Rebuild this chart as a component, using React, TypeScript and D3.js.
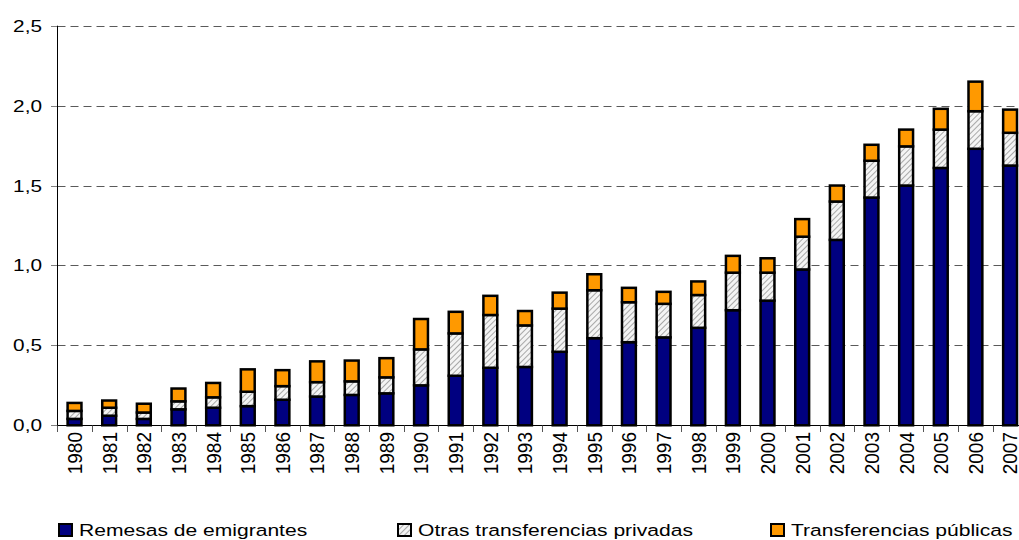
import React from "react";
import * as d3 from "d3";

const years = ["1980","1981","1982","1983","1984","1985","1986","1987","1988","1989","1990","1991","1992","1993","1994","1995","1996","1997","1998","1999","2000","2001","2002","2003","2004","2005","2006","2007"];
const remesas = [0.04,0.06,0.04,0.10,0.11,0.12,0.16,0.18,0.19,0.20,0.25,0.31,0.36,0.365,0.46,0.545,0.52,0.55,0.61,0.72,0.78,0.975,1.16,1.425,1.50,1.61,1.73,1.625];
const otras = [0.05,0.05,0.04,0.05,0.065,0.09,0.085,0.09,0.085,0.10,0.225,0.265,0.33,0.26,0.27,0.30,0.25,0.21,0.205,0.235,0.175,0.205,0.24,0.23,0.245,0.24,0.235,0.205];
const publicas = [0.05,0.045,0.055,0.08,0.09,0.14,0.10,0.13,0.13,0.12,0.19,0.135,0.12,0.09,0.10,0.10,0.09,0.075,0.085,0.105,0.09,0.11,0.10,0.10,0.105,0.13,0.185,0.145];
const yTicks = [0, 0.5, 1.0, 1.5, 2.0, 2.5];
const seriesNames = ["Remesas de emigrantes", "Otras transferencias privadas", "Transferencias públicas"];

const W = 1019, H = 540;
const FONT = "'Liberation Sans', Arial, sans-serif";

export default function App() {
  const x = d3.scaleBand<string>().domain(years).range([57.2, 1027.4]).paddingInner(0.6).paddingOuter(0.3);
  const y = d3.scaleLinear().domain([0, 2.5]).range([425.3, 25.7]);
  const table = years.map((yr, i) => ({ yr, remesas: remesas[i], otras: otras[i], publicas: publicas[i] }));
  const stack = d3.stack<any>().keys(["remesas", "otras", "publicas"])(table);
  const fills = ["#000080", "url(#hatch)", "#FF9900"];
  const step = x.step();
  const bw = x.bandwidth();
  const legendX = [58, 397, 770];
  const fmt = (v: number) => v.toFixed(1).replace(".", ",");

  return (
    <svg width={W} height={H} style={{ position: "absolute", left: 0, top: 0, background: "#fff" }} fontFamily={FONT}>
      <defs>
        <pattern id="hatch" patternUnits="userSpaceOnUse" width="4" height="4" patternTransform="rotate(45)">
          <rect width="4" height="4" fill="#f4f4f4" />
          <line x1="0" y1="0" x2="0" y2="4" stroke="#a8a8a8" strokeWidth="2" />
        </pattern>
      </defs>
      <rect width={W} height={H} fill="#fff" />
      {yTicks.filter(t => t > 0).map(t => (
        <line key={t} x1={57.5} x2={W} y1={Math.round(y(t)) + 0.5} y2={Math.round(y(t)) + 0.5} stroke="#5a5a5a" strokeDasharray="8,5" strokeWidth={1} />
      ))}
      {yTicks.map(t => (
        <g key={t}>
          <line x1={51} x2={57.5} y1={Math.round(y(t)) + 0.5} y2={Math.round(y(t)) + 0.5} stroke="#808080" strokeWidth={1} />
          <g transform={`translate(42, ${y(t) + 6}) scale(1.3,1)`}>
            <text textAnchor="end" fontSize={16} fill="#000">{fmt(t)}</text>
          </g>
        </g>
      ))}
      {stack.map((s, si) => (
        <g key={si}>
          {s.map((d, i) => (
            <rect key={i} x={x(years[i])!} y={y(d[1])} width={bw} height={y(d[0]) - y(d[1])} fill={fills[si]} stroke="#000" strokeWidth={2.5} />
          ))}
        </g>
      ))}
      <line x1={57.5} x2={57.5} y1={25.7} y2={425.5} stroke="#000" strokeWidth={1} />
      <line x1={57} x2={W} y1={425.5} y2={425.5} stroke="#000" strokeWidth={1} />
      {years.map((yr, i) => (
        <line key={yr} x1={Math.round(57.2 + i * step) + 0.5} x2={Math.round(57.2 + i * step) + 0.5} y1={425.5} y2={432} stroke="#555" strokeWidth={1} />
      ))}
      {years.map(yr => {
        const cx = x(yr)! + bw / 2;
        return (
          <g key={yr} transform={`translate(${cx}, 432) rotate(-90) scale(1,1.08)`}>
            <text textAnchor="end" dy="0.36em" fontSize={19} fill="#000">{yr}</text>
          </g>
        );
      })}
      {seriesNames.map((n, i) => (
        <g key={n}>
          <rect x={legendX[i] + 1} y={524} width={13} height={12} fill={fills[i]} stroke="#000" strokeWidth={2} />
          <g transform={`translate(${legendX[i] + 21}, 536) scale(1.24,1)`}>
            <text fontSize={17} fill="#000">{n}</text>
          </g>
        </g>
      ))}
    </svg>
  );
}
